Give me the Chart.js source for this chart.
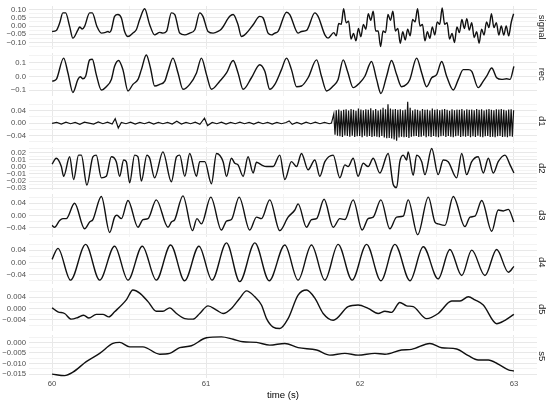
<!DOCTYPE html>
<html>
<head>
<meta charset="utf-8">
<script src="https://cdn.jsdelivr.net/npm/chart.js@4/dist/chart.umd.min.js"></script>
<style>
html, body { margin: 0; padding: 0; background: #fff; }
#wrap { position: relative; width: 550px; height: 403px; overflow: hidden; }
#wrap canvas { position: absolute; left: 0; }
</style>
</head>
<body>
<div id="wrap"></div>
<script>
var M = "\u2212";

// x axis
var timeTicks = [60, 61, 62, 63];
var timeLabels = ["60", "61", "62", "63"];
var timeMinor = [60.5, 61.5, 62.5];
var timeRange = [59.85, 63.15];

// sample times for the fast part of the signal (after ~61.83 s)
var fastTime = [61.830, 61.846, 61.862, 61.878, 61.894, 61.910, 61.926, 61.942, 61.958, 61.974,
  61.990, 62.006, 62.022, 62.038, 62.054, 62.070, 62.086, 62.102, 62.118, 62.134,
  62.150, 62.166, 62.182, 62.198, 62.214, 62.230, 62.246, 62.262, 62.278, 62.294,
  62.310, 62.326, 62.342, 62.358, 62.374, 62.390, 62.406, 62.422, 62.438, 62.454,
  62.470, 62.486, 62.502, 62.518, 62.534, 62.550, 62.566, 62.582, 62.598, 62.614,
  62.630, 62.646, 62.662, 62.678, 62.694, 62.710, 62.726, 62.742, 62.758, 62.774,
  62.790, 62.806, 62.822, 62.838, 62.854, 62.870, 62.886, 62.902, 62.918, 62.934,
  62.950, 62.966, 62.982, 62.998];

// signal
var signalTime = [60.000, 60.027, 60.049, 60.070, 60.088, 60.114, 60.135, 60.168, 60.179, 60.196,
  60.211, 60.244, 60.261, 60.291, 60.320, 60.348, 60.363, 60.374, 60.385, 60.406,
  60.428, 60.450, 60.471, 60.493, 60.525, 60.547, 60.569, 60.601, 60.634, 60.666,
  60.699, 60.720, 60.743, 60.775, 60.797, 60.829, 60.862, 60.894, 60.927, 60.959,
  60.980, 61.013, 61.046, 61.078, 61.100, 61.154, 61.176, 61.208, 61.230, 61.263,
  61.306, 61.349, 61.371, 61.403, 61.425, 61.447, 61.468, 61.523, 61.544, 61.598,
  61.620, 61.653, 61.707, 61.728, 61.772, 61.793];
var signalVal = [-0.033, -0.027, 0.018, 0.080, 0.080, -0.002, -0.074, -0.023, -0.006, -0.018,
  -0.002, 0.080, 0.080, -0.002, -0.043, -0.039, -0.033, -0.039, -0.023, 0.059,
  0.070, 0.049, -0.033, -0.064, -0.043, -0.023, 0.039, 0.105, 0.008, -0.054,
  -0.039, -0.043, -0.033, 0.080, 0.070, -0.043, -0.054, -0.043, -0.023, 0.080,
  0.059, -0.033, -0.043, -0.033, -0.018, 0.059, 0.070, 0.008, -0.064, -0.043,
  0.008, 0.059, 0.049, -0.043, -0.054, -0.043, -0.033, 0.084, 0.070, -0.043,
  -0.033, -0.027, 0.080, 0.059, -0.054, -0.074];
var signalFast = [-0.040, -0.060, 0.015, 0.010, 0.105, 0.020, 0.030, -0.080, -0.045, -0.090,
  -0.015, -0.065, 0.010, -0.020, 0.075, 0.035, 0.090, -0.030, -0.030, -0.125,
  -0.030, -0.040, 0.070, 0.035, 0.090, -0.030, -0.015, -0.105, -0.035, -0.085,
  -0.020, -0.060, 0.040, 0.025, 0.105, 0.000, 0.010, -0.090, -0.035, -0.075,
  -0.005, -0.055, 0.025, 0.010, 0.110, 0.010, 0.020, -0.080, -0.045, -0.100,
  -0.005, -0.040, 0.040, -0.015, 0.045, -0.025, 0.020, -0.070, -0.035, -0.105,
  -0.020, -0.055, 0.025, -0.010, 0.075, -0.010, 0.020, -0.055, 0.000, -0.055,
  0.000, -0.060, 0.020, 0.075];

// rec
var recTime = [60.000, 60.027, 60.075, 60.103, 60.135, 60.168, 60.183, 60.200, 60.218, 60.244,
  60.261, 60.287, 60.320, 60.352, 60.385, 60.406, 60.432, 60.460, 60.493, 60.525,
  60.558, 60.580, 60.612, 60.639, 60.666, 60.699, 60.732, 60.753, 60.785, 60.818,
  60.850, 60.894, 60.938, 60.970, 61.003, 61.035, 61.089, 61.133, 61.176, 61.208,
  61.241, 61.295, 61.349, 61.382, 61.414, 61.447, 61.490, 61.523, 61.555, 61.588,
  61.620, 61.663, 61.718, 61.750, 61.783, 61.826, 61.858, 61.891, 61.919, 61.956,
  61.999, 62.032, 62.075, 62.108, 62.136, 62.173, 62.205, 62.238, 62.270, 62.303,
  62.324, 62.368, 62.401, 62.433, 62.466, 62.498, 62.531, 62.563, 62.606, 62.639,
  62.671, 62.704, 62.726, 62.768, 62.801, 62.823, 62.856, 62.888, 62.921, 62.953,
  62.975, 63.000];
var recVal = [-0.034, -0.021, 0.134, 0.026, -0.116, -0.021, -0.002, -0.016, 0.002, 0.121,
  0.126, 0.014, -0.098, -0.074, -0.021, 0.074, 0.116, 0.050, -0.105, -0.057,
  -0.021, 0.050, 0.157, 0.062, -0.069, -0.057, -0.034, 0.038, 0.134, 0.026,
  -0.093, -0.057, 0.026, 0.134, 0.014, -0.093, -0.034, 0.026, 0.116, 0.026,
  -0.093, -0.009, 0.086, 0.038, -0.093, -0.057, 0.050, 0.134, 0.050, -0.074,
  -0.069, -0.009, 0.121, 0.002, -0.105, -0.069, -0.021, 0.121, 0.038, -0.081,
  -0.045, 0.002, 0.109, -0.021, -0.124, 0.002, 0.116, 0.014, -0.074, -0.057,
  -0.021, 0.134, 0.026, -0.074, -0.009, 0.014, 0.109, 0.002, -0.098, -0.021,
  0.050, 0.050, 0.038, -0.081, -0.034, 0.002, 0.062, -0.009, -0.021, -0.016,
  -0.021, 0.074];

// d1
var d1Time = [60.00, 60.03, 60.06, 60.09, 60.12, 60.15, 60.18, 60.21, 60.24, 60.27,
  60.30, 60.33, 60.36, 60.39, 60.41, 60.43, 60.45, 60.48, 60.51, 60.54,
  60.57, 60.60, 60.63, 60.66, 60.69, 60.72, 60.75, 60.78, 60.81, 60.84,
  60.87, 60.90, 60.93, 60.96, 60.99, 61.01, 61.04, 61.07, 61.10, 61.13,
  61.16, 61.19, 61.22, 61.25, 61.28, 61.31, 61.34, 61.37, 61.40, 61.43,
  61.46, 61.49, 61.52, 61.54, 61.56, 61.59, 61.62, 61.65, 61.68, 61.71,
  61.74, 61.77, 61.80, 61.815];
var d1Val = [-0.001, 0.002, -0.003, 0.003, -0.002, 0.002, -0.004, 0.003, 0.000, -0.003,
  0.004, -0.002, 0.003, -0.003, 0.014, -0.016, 0.002, -0.002, 0.003, -0.003,
  0.002, -0.002, 0.003, -0.003, 0.002, -0.002, 0.002, -0.003, 0.006, -0.003,
  0.002, -0.002, 0.003, -0.004, 0.016, -0.008, 0.002, -0.002, 0.003, -0.003,
  0.002, -0.002, 0.003, -0.002, 0.002, -0.003, 0.003, -0.002, 0.002, -0.003,
  0.002, -0.002, 0.002, 0.007, -0.004, 0.002, -0.003, 0.003, -0.002, 0.003,
  -0.002, 0.002, -0.002, 0.000];
var d1FastTime = [61.830, 61.838, 61.846, 61.854, 61.862, 61.870, 61.878, 61.886, 61.894, 61.902,
  61.910, 61.918, 61.926, 61.934, 61.942, 61.950, 61.958, 61.966, 61.974, 61.982,
  61.990, 61.998, 62.006, 62.014, 62.022, 62.030, 62.038, 62.046, 62.054, 62.062,
  62.070, 62.078, 62.086, 62.094, 62.102, 62.110, 62.118, 62.126, 62.134, 62.142,
  62.150, 62.158, 62.166, 62.174, 62.182, 62.190, 62.198, 62.206, 62.214, 62.222,
  62.230, 62.238, 62.246, 62.254, 62.262, 62.270, 62.278, 62.286, 62.294, 62.302,
  62.310, 62.318, 62.326, 62.334, 62.342, 62.350, 62.358, 62.366, 62.374, 62.382,
  62.390, 62.398, 62.406, 62.414, 62.422, 62.430, 62.438, 62.446, 62.454, 62.462,
  62.470, 62.478, 62.486, 62.494, 62.502, 62.510, 62.518, 62.526, 62.534, 62.542,
  62.550, 62.558, 62.566, 62.574, 62.582, 62.590, 62.598, 62.606, 62.614, 62.622,
  62.630, 62.638, 62.646, 62.654, 62.662, 62.670, 62.678, 62.686, 62.694, 62.702,
  62.710, 62.718, 62.726, 62.734, 62.742, 62.750, 62.758, 62.766, 62.774, 62.782,
  62.790, 62.798, 62.806, 62.814, 62.822, 62.830, 62.838, 62.846, 62.854, 62.862,
  62.870, 62.878, 62.886, 62.894, 62.902, 62.910, 62.918, 62.926, 62.934, 62.942,
  62.950, 62.958, 62.966, 62.974, 62.982, 62.990, 62.998];
var d1Fast = [0.030, -0.038, 0.042, -0.041, 0.044, -0.043, 0.040, -0.045, 0.043, -0.040,
  0.045, -0.042, 0.041, -0.044, 0.046, -0.041, 0.043, -0.045, 0.040, -0.043,
  0.047, -0.042, 0.044, -0.046, 0.042, -0.041, 0.045, -0.044, 0.043, -0.042,
  0.048, -0.045, 0.042, -0.043, 0.046, -0.044, 0.041, -0.046, 0.044, -0.042,
  0.050, -0.047, 0.045, -0.049, 0.061, -0.048, 0.047, -0.050, 0.044, -0.053,
  0.046, -0.057, 0.043, -0.047, 0.045, -0.044, 0.042, -0.046, 0.044, -0.045,
  0.069, -0.048, 0.050, -0.044, 0.041, -0.043, 0.045, -0.042, 0.043, -0.045,
  0.040, -0.044, 0.046, -0.041, 0.043, -0.046, 0.044, -0.043, 0.041, -0.045,
  0.047, -0.042, 0.043, -0.044, 0.045, -0.046, 0.042, -0.043, 0.044, -0.041,
  0.046, -0.045, 0.043, -0.042, 0.040, -0.044, 0.045, -0.046, 0.042, -0.043,
  0.044, -0.041, 0.043, -0.045, 0.046, -0.043, 0.041, -0.044, 0.045, -0.042,
  0.043, -0.046, 0.044, -0.043, 0.042, -0.045, 0.046, -0.041, 0.043, -0.044,
  0.045, -0.046, 0.041, -0.043, 0.044, -0.042, 0.046, -0.045, 0.043, -0.044,
  0.042, -0.046, 0.045, -0.043, 0.044, -0.042, 0.046, -0.045, 0.043, -0.044,
  0.041, -0.046, 0.044, -0.043, 0.045, -0.044, 0.042];

// d2
var d2Time = [60.000, 60.027, 60.060, 60.075, 60.114, 60.140, 60.172, 60.190, 60.226, 60.265,
  60.287, 60.320, 60.352, 60.385, 60.417, 60.439, 60.465, 60.482, 60.504, 60.536,
  60.558, 60.580, 60.616, 60.634, 60.666, 60.720, 60.775, 60.808, 60.829, 60.862,
  60.894, 60.938, 60.959, 60.992, 61.035, 61.068, 61.111, 61.133, 61.165, 61.187,
  61.208, 61.241, 61.273, 61.306, 61.328, 61.360, 61.393, 61.436, 61.479, 61.512,
  61.555, 61.588, 61.620, 61.663, 61.707, 61.739, 61.772, 61.826, 61.869, 61.902,
  61.923, 61.956, 61.988, 62.021, 62.053, 62.086, 62.129, 62.183, 62.216, 62.238,
  62.259, 62.281, 62.303, 62.313, 62.346, 62.368, 62.401, 62.422, 62.466, 62.508,
  62.541, 62.573, 62.628, 62.661, 62.693, 62.726, 62.768, 62.801, 62.834, 62.866,
  62.898, 62.942, 62.975, 63.000];
var d2Val = [0.0037, 0.0119, 0.0004, -0.0132, 0.0140, -0.0177, 0.0164, 0.0164, -0.0255, 0.0140,
  0.0164, -0.0154, -0.0132, 0.0140, 0.0072, -0.0132, 0.0095, 0.0072, -0.0222, 0.0164,
  0.0140, -0.0200, 0.0164, 0.0119, -0.0154, 0.0209, -0.0209, 0.0140, 0.0164, -0.0132,
  0.0187, -0.0132, 0.0072, 0.0072, -0.0236, 0.0187, 0.0072, -0.0132, 0.0119, 0.0050,
  0.0027, -0.0132, 0.0140, -0.0086, 0.0064, 0.0027, 0.0004, 0.0004, 0.0164, -0.0177,
  0.0072, 0.0004, 0.0187, -0.0041, 0.0095, -0.0132, 0.0072, 0.0164, -0.0154, 0.0027,
  0.0004, 0.0119, -0.0132, 0.0050, 0.0004, 0.0119, -0.0086, 0.0187, -0.0246, -0.0291,
  0.0072, 0.0164, 0.0095, 0.0209, -0.0119, 0.0164, 0.0072, -0.0109, 0.0255, -0.0109,
  0.0095, 0.0072, -0.0154, 0.0187, -0.0109, 0.0072, 0.0140, -0.0086, 0.0119, -0.0086,
  0.0072, 0.0164, 0.0027, -0.0086];

// d3
var d3Time = [60.000, 60.016, 60.049, 60.070, 60.092, 60.146, 60.211, 60.244, 60.265, 60.320,
  60.374, 60.406, 60.421, 60.450, 60.493, 60.558, 60.590, 60.623, 60.677, 60.753,
  60.775, 60.797, 60.850, 60.912, 60.941, 60.970, 61.031, 61.100, 61.133, 61.165,
  61.215, 61.284, 61.328, 61.360, 61.414, 61.479, 61.533, 61.577, 61.598, 61.653,
  61.685, 61.718, 61.767, 61.826, 61.869, 61.902, 61.956, 62.014, 62.053, 62.086,
  62.136, 62.194, 62.238, 62.281, 62.313, 62.375, 62.444, 62.487, 62.508, 62.552,
  62.606, 62.682, 62.715, 62.747, 62.791, 62.856, 62.898, 62.931, 62.964, 63.000];
var d3Val = [-0.032, -0.038, -0.016, -0.010, -0.010, 0.040, -0.043, -0.021, -0.013, 0.062,
  -0.055, -0.005, 0.001, -0.010, 0.049, -0.038, -0.013, -0.010, 0.051, -0.038,
  -0.021, -0.013, 0.064, -0.049, -0.010, -0.027, 0.060, -0.047, -0.018, -0.013,
  0.060, -0.047, -0.005, -0.010, 0.051, -0.049, -0.005, 0.018, 0.038, -0.038,
  -0.013, -0.010, 0.053, -0.038, -0.010, -0.013, 0.051, -0.047, -0.010, -0.005,
  0.051, -0.043, -0.005, -0.002, 0.051, -0.062, 0.060, -0.021, -0.027, -0.032,
  0.062, -0.036, -0.005, -0.002, 0.049, -0.051, 0.018, 0.015, 0.020, -0.021];

// d4
var d4Time = [60.000, 60.038, 60.120, 60.218, 60.309, 60.406, 60.493, 60.586, 60.677, 60.770,
  60.861, 60.954, 61.039, 61.133, 61.219, 61.317, 61.410, 61.512, 61.598, 61.685,
  61.772, 61.858, 61.949, 62.043, 62.136, 62.227, 62.325, 62.411, 62.508, 62.584,
  62.661, 62.726, 62.812, 62.888, 62.964, 63.000];
var d4Val = [0.010, 0.046, -0.058, 0.059, -0.058, 0.053, -0.058, 0.053, -0.058, 0.057,
  -0.060, 0.053, -0.058, 0.064, -0.063, 0.064, -0.060, 0.057, -0.058, 0.057,
  -0.058, 0.059, -0.058, 0.059, -0.060, 0.059, -0.060, 0.051, -0.054, 0.042,
  -0.043, 0.040, -0.043, 0.042, -0.032, -0.013];

// d5
var d5Time = [60.000, 60.038, 60.081, 60.125, 60.168, 60.205, 60.239, 60.287, 60.330, 60.369,
  60.406, 60.482, 60.525, 60.569, 60.623, 60.677, 60.720, 60.764, 60.808, 60.862,
  60.915, 60.959, 61.013, 61.068, 61.111, 61.165, 61.219, 61.263, 61.317, 61.360,
  61.393, 61.436, 61.479, 61.533, 61.598, 61.653, 61.707, 61.761, 61.826, 61.923,
  61.988, 62.053, 62.118, 62.162, 62.205, 62.259, 62.303, 62.346, 62.433, 62.508,
  62.596, 62.650, 62.704, 62.747, 62.801, 62.888, 62.942, 63.000];
var d5Val = [0.0002, -0.0012, -0.0018, -0.0038, -0.0032, -0.0024, -0.0034, -0.0021, -0.0021, -0.0030,
  -0.0012, 0.0030, 0.0065, 0.0054, 0.0024, -0.0010, -0.0010, 0.0002, -0.0018, -0.0036,
  -0.0038, -0.0018, 0.0009, -0.0006, -0.0018, 0.0000, 0.0036, 0.0062, 0.0041, 0.0012,
  -0.0036, -0.0066, -0.0071, -0.0036, 0.0047, 0.0065, 0.0036, -0.0018, -0.0042, 0.0006,
  0.0012, 0.0000, -0.0018, -0.0010, -0.0014, 0.0021, 0.0009, 0.0006, -0.0036, -0.0018,
  0.0026, 0.0026, 0.0041, 0.0030, 0.0012, -0.0054, -0.0042, -0.0021];

// s5
var s5Time = [60.000, 60.081, 60.135, 60.222, 60.309, 60.395, 60.439, 60.504, 60.590, 60.699,
  60.764, 60.829, 60.905, 61.003, 61.100, 61.176, 61.241, 61.328, 61.414, 61.512,
  61.598, 61.718, 61.804, 61.902, 61.988, 62.097, 62.162, 62.270, 62.335, 62.454,
  62.531, 62.628, 62.704, 62.768, 62.834, 62.898, 62.964, 63.000];
var s5Val = [-0.0150, -0.0157, -0.0141, -0.0091, -0.0052, -0.0005, 0.0000, -0.0021, -0.0021, -0.0056,
  -0.0052, -0.0025, -0.0016, 0.0022, 0.0026, 0.0015, 0.0003, 0.0000, -0.0013, -0.0005,
  -0.0025, -0.0036, -0.0060, -0.0052, -0.0060, -0.0052, -0.0056, -0.0036, -0.0033, -0.0005,
  -0.0025, -0.0031, -0.0063, -0.0083, -0.0083, -0.0103, -0.0130, -0.0135];

// y axes: limits, labelled ticks, minor grid
var signalLim = [-0.137, 0.122];
var signalTicks = [-0.10, -0.05, 0, 0.05, 0.10];
var signalLabels = [M + "0.10", M + "0.05", "0.00", "0.05", "0.10"];
var signalMinor = [-0.125, -0.075, -0.025, 0.025, 0.075];

var recLim = [-0.138, 0.171];
var recTicks = [-0.1, 0, 0.1];
var recLabels = [M + "0.1", "0.0", "0.1"];
var recMinor = [-0.05, 0.05, 0.15];

var d1Lim = [-0.063, 0.075];
var d1Ticks = [-0.04, 0, 0.04];
var d1Labels = [M + "0.04", "0.00", "0.04"];
var d1Minor = [-0.06, -0.02, 0.02, 0.06];

var d2Lim = [-0.0317, 0.0277];
var d2Ticks = [-0.03, -0.02, -0.01, 0, 0.01, 0.02];
var d2Labels = [M + "0.03", M + "0.02", M + "0.01", "0.00", "0.01", "0.02"];
var d2Minor = [-0.025, -0.015, -0.005, 0.005, 0.015, 0.025];

var d3Lim = [-0.068, 0.070];
var d3Ticks = [-0.04, 0, 0.04];
var d3Labels = [M + "0.04", "0.00", "0.04"];
var d3Minor = [-0.06, -0.02, 0.02, 0.06];

var d4Lim = [-0.069, 0.070];
var d4Ticks = [-0.04, 0, 0.04];
var d4Labels = [M + "0.04", "0.00", "0.04"];
var d4Minor = [-0.06, -0.02, 0.02, 0.06];

var d5Lim = [-0.0078, 0.0072];
var d5Ticks = [-0.004, 0, 0.004];
var d5Labels = [M + "0.004", "0.000", "0.004"];
var d5Minor = [-0.006, -0.002, 0.002, 0.006];

var s5Lim = [-0.0166, 0.0035];
var s5Ticks = [-0.015, -0.010, -0.005, 0];
var s5Labels = [M + "0.015", M + "0.010", M + "0.005", "0.000"];
var s5Minor = [-0.0125, -0.0075, -0.0025, 0.0025];

var panels = [
  { name: "signal", t: signalTime.concat(fastTime), v: signalVal.concat(signalFast), lim: signalLim, ticks: signalTicks, labels: signalLabels, minor: signalMinor },
  { name: "rec", t: recTime, v: recVal, lim: recLim, ticks: recTicks, labels: recLabels, minor: recMinor },
  { name: "d1", t: d1Time.concat(d1FastTime), v: d1Val.concat(d1Fast), lim: d1Lim, ticks: d1Ticks, labels: d1Labels, minor: d1Minor, sharp: true },
  { name: "d2", t: d2Time, v: d2Val, lim: d2Lim, ticks: d2Ticks, labels: d2Labels, minor: d2Minor },
  { name: "d3", t: d3Time, v: d3Val, lim: d3Lim, ticks: d3Ticks, labels: d3Labels, minor: d3Minor },
  { name: "d4", t: d4Time, v: d4Val, lim: d4Lim, ticks: d4Ticks, labels: d4Labels, minor: d4Minor },
  { name: "d5", t: d5Time, v: d5Val, lim: d5Lim, ticks: d5Ticks, labels: d5Labels, minor: d5Minor },
  { name: "s5", t: s5Time, v: s5Val, lim: s5Lim, ticks: s5Ticks, labels: s5Labels, minor: s5Minor }
];

// layout (px)
var firstTop = 6, pitch = 47, panelH = 42.5, pad = 6, axisH = 25.5;
var family = "'Liberation Sans', Arial, sans-serif";

function tickList(major, labels, minor) {
  var out = major.map(function (v, i) { return { value: v, lbl: labels[i], isMajor: true }; });
  minor.forEach(function (v) { out.push({ value: v, lbl: "", isMajor: false }); });
  out.sort(function (a, b) { return a.value - b.value; });
  return out;
}
function gridColor(ctx) {
  return ctx.tick && ctx.tick.isMajor ? "#e8e8e8" : "#f3f3f3";
}
function tickLabel(v, i, ticks) {
  return ticks[i] && ticks[i].lbl ? ticks[i].lbl : "";
}

var wrap = document.getElementById("wrap");
panels.forEach(function (p, i) {
  var last = i === panels.length - 1;
  var top = firstTop + i * pitch - pad;
  var h = last ? 403 - top : panelH + 2 * pad;
  var cv = document.createElement("canvas");
  cv.width = 550;
  cv.height = Math.round(h);
  cv.style.top = top + "px";
  wrap.appendChild(cv);

  var pts = p.t.map(function (x, k) { return { x: x, y: p.v[k] }; });

  new Chart(cv.getContext("2d"), {
    type: "line",
    data: {
      datasets: [{
        data: pts,
        borderColor: "#111",
        borderWidth: p.sharp ? 1.2 : 1.4,
        pointRadius: 0,
        fill: false,
        tension: 0,
        cubicInterpolationMode: p.sharp ? "default" : "monotone"
      }]
    },
    options: {
      responsive: false,
      animation: false,
      events: [],
      layout: { padding: { top: pad, bottom: last ? 0 : cv.height - pad - panelH, left: 0, right: 0 } },
      plugins: { legend: { display: false }, tooltip: { enabled: false } },
      scales: {
        x: {
          type: "linear",
          min: timeRange[0],
          max: timeRange[1],
          afterBuildTicks: function (s) { s.ticks = tickList(timeTicks, timeLabels, timeMinor); },
          afterFit: function (s) { s.height = last ? axisH : 0; s.paddingLeft = 0; s.paddingRight = 0; },
          grid: { drawTicks: false, color: gridColor, lineWidth: 1 },
          border: { display: false },
          ticks: {
            display: last, autoSkip: false, maxRotation: 0, padding: 2,
            color: "#4d4d4d", font: { family: family, size: 7.7 }, callback: tickLabel
          },
          title: {
            display: last, text: "time (s)", color: "#000",
            font: { family: family, size: 9.6 }, padding: { top: 0, bottom: 2 }
          }
        },
        y: {
          type: "linear",
          position: "left",
          min: p.lim[0],
          max: p.lim[1],
          afterBuildTicks: function (s) { s.ticks = tickList(p.ticks, p.labels, p.minor); },
          afterFit: function (s) { s.width = 29; s.paddingTop = 0; s.paddingBottom = 0; },
          grid: { drawTicks: false, color: gridColor, lineWidth: 1 },
          border: { display: false },
          ticks: {
            autoSkip: false, padding: 3, color: "#4d4d4d",
            font: { family: family, size: 7.7 }, callback: tickLabel
          }
        },
        strip: {
          type: "linear",
          position: "right",
          min: 0,
          max: 1,
          afterFit: function (s) { s.width = 13; s.paddingTop = 0; s.paddingBottom = 0; },
          grid: { display: false, drawTicks: false },
          border: { display: false },
          ticks: { display: false },
          title: {
            display: true, text: p.name, color: "#1a1a1a",
            font: { family: family, size: 9.5 }, padding: { top: 2.3, bottom: 0 }
          }
        }
      }
    }
  });
});
</script>
</body>
</html>
